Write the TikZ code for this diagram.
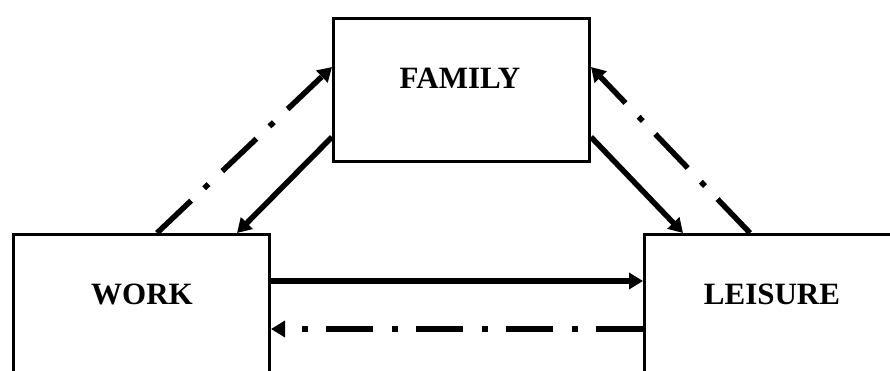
\documentclass[tikz,border=0pt]{standalone}
\usepackage{fontspec}
\setmainfont{Liberation Serif}
\usetikzlibrary{arrows.meta,calc}
\begin{document}
\begin{tikzpicture}[x=1pt,y=-1pt,
  boxnode/.style={draw=black,line width=3pt,rectangle,inner sep=0pt,anchor=north west},
  labeltext/.style={font=\fontsize{31}{36}\selectfont\bfseries,inner sep=0pt},
  solidarrow/.style={line width=5.5pt,-{Triangle[length=14pt,width=16pt]}},
  dasharrow/.style={line width=5.5pt,dash pattern=on 47pt off 18pt on 6pt off 19pt,-{Triangle[length=14pt,width=16pt]}}]
\clip (0,0) rectangle (890,371);
\fill[white] (0,0) rectangle (890,371);
\node[boxnode,minimum width=256pt,minimum height=143pt] (family) at (332,17) {};
\node[boxnode,minimum width=256pt,minimum height=200pt] (work) at (12,233) {};
\node[boxnode,minimum width=360pt,minimum height=200pt] (leisure) at (643,233) {};
\node[labeltext] (famtxt) at (460,78) {FAMILY};
\node[labeltext] (worktxt) at (142,294) {WORK};
\node[labeltext] (leistxt) at (772,294) {LEISURE};
% connectors
\draw[dasharrow] ([xshift=145pt]work.north west) -- ([yshift=-50pt]family.north west);
\draw[solidarrow] ([yshift=-120pt]family.north west) -- ([xshift=225pt]work.north west);
\draw[solidarrow] ([yshift=-120pt]family.north east) -- ([xshift=40pt]leisure.north west);
\draw[dasharrow] ([xshift=107pt]leisure.north west) -- ([yshift=-50pt]family.north east);
\draw[solidarrow] ([yshift=-48pt]work.north east) -- ([yshift=-48pt]leisure.north west);
\draw[dasharrow] ([yshift=-96pt]leisure.north west) -- ([yshift=-96pt]work.north east);
\end{tikzpicture}
\end{document}
